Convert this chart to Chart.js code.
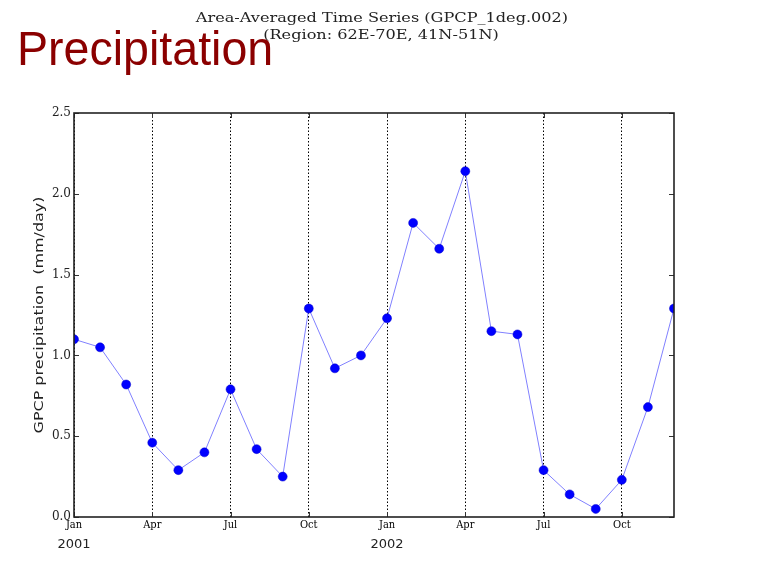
<!DOCTYPE html>
<html>
<head>
<meta charset="utf-8">
<script src="https://cdn.jsdelivr.net/npm/chart.js@4/dist/chart.umd.min.js"></script>
<style>
  html, body { margin: 0; padding: 0; background: #fff; }
  #wrap { position: relative; width: 758px; height: 575px; overflow: hidden; }
  #c { position: absolute; left: 0; top: 0; }
  .title { position: absolute; font-family: "DejaVu Serif", serif; font-size: 13px; color: #222;
           white-space: nowrap; transform: translateX(-50%) scaleX(1.24); line-height: 1; }
  #headline { position: absolute; left: 17px; top: 25px; font-family: "Liberation Sans", Arial, sans-serif;
              font-size: 48px; color: #8b0000; white-space: nowrap; line-height: 1;
              transform: scaleX(0.97); transform-origin: 0 0; }
</style>
</head>
<body>
<div id="wrap">
  <canvas id="c" width="758" height="575"></canvas>
  <div class="title" style="left:382px; top:11px;">Area-Averaged Time Series (GPCP_1deg.002)</div>
  <div class="title" style="left:381px; top:28px;">(Region: 62E-70E, 41N-51N)</div>
  <div id="headline">Precipitation</div>
</div>
<script>
// Monthly area-averaged GPCP precipitation, Jan 2001 – Dec 2002 (mm/day)
const monthIndex = [0,1,2,3,4,5,6,7,8,9,10,11,12,13,14,15,16,17,18,19,20,21,22,23];
const precipValues = [1.10, 1.05, 0.82, 0.46, 0.29, 0.40, 0.79, 0.42, 0.25, 1.29, 0.92, 1.00,
                      1.23, 1.82, 1.66, 2.14, 1.15, 1.13, 0.29, 0.14, 0.05, 0.23, 0.68, 1.29];
const monthNames = ['Jan','Feb','Mar','Apr','May','Jun','Jul','Aug','Sep','Oct','Nov','Dec'];
const monthTicks = [0,3,6,9,12,15,18,21];
const yearTicks = [0,12];
const yearLabels = ['2001','2002'];
const yTicks = [0,0.5,1.0,1.5,2.0,2.5];
const yAxisTitle = 'GPCP precipitation  (mm/day)';

const points = monthIndex.map((m, i) => ({x: m, y: precipValues[i]}));

// Plot frame, inward-facing tick marks on all four sides, and the y-axis title
const framePlugin = {
  id: 'frame',
  afterDatasetsDraw(chart) {
    const {ctx, chartArea: a, scales} = chart;
    ctx.save();
    ctx.strokeStyle = '#333';
    ctx.lineWidth = 1;
    ctx.beginPath();
    yTicks.forEach(v => {
      const y = Math.round(scales.y.getPixelForValue(v)) + 0.5;
      ctx.moveTo(a.left, y); ctx.lineTo(a.left + 5, y);
      ctx.moveTo(a.right, y); ctx.lineTo(a.right - 5, y);
    });
    monthTicks.forEach(v => {
      const x = Math.round(scales.x.getPixelForValue(v)) + 0.5;
      ctx.moveTo(x, a.bottom); ctx.lineTo(x, a.bottom - 5);
      ctx.moveTo(x, a.top); ctx.lineTo(x, a.top + 5);
    });
    ctx.stroke();
    ctx.lineWidth = 1.6;
    ctx.strokeStyle = '#222';
    ctx.strokeRect(a.left, a.top, a.right - a.left, a.bottom - a.top);

    // rotated axis title, stretched along its length
    ctx.translate(a.left - 34, (a.top + a.bottom) / 2);
    ctx.rotate(-Math.PI / 2);
    ctx.font = '13px "DejaVu Sans"';
    ctx.fillStyle = '#222';
    ctx.textAlign = 'center';
    ctx.textBaseline = 'middle';
    const w = ctx.measureText(yAxisTitle).width;
    ctx.scale(237 / w, 1);
    ctx.fillText(yAxisTitle, 0, 0);
    ctx.restore();
  }
};

new Chart(document.getElementById('c'), {
  type: 'line',
  data: {
    datasets: [{
      data: points,
      borderColor: '#8080ff',
      borderWidth: 1,
      pointRadius: 4.5,
      pointHoverRadius: 4.5,
      pointBackgroundColor: '#0000ff',
      pointBorderColor: '#0000cc',
      pointBorderWidth: 0.5,
      tension: 0,
      clip: 0
    }]
  },
  options: {
    responsive: false,
    animation: false,
    events: [],
    layout: { padding: { left: 0, top: 113, right: 84, bottom: 0 } },
    plugins: { legend: { display: false }, tooltip: { enabled: false } },
    scales: {
      x: {
        type: 'linear',
        position: 'bottom',
        min: 0, max: 23,
        afterBuildTicks: s => { s.ticks = monthTicks.map(v => ({value: v})); },
        afterFit: s => { s.height = 19; },
        grid: { display: true, color: '#000', lineWidth: 1, drawTicks: false },
        border: { display: false, dash: [1.5, 2] },
        ticks: {
          padding: 2,
          maxRotation: 0,
          autoSkip: false,
          color: '#000',
          font: { family: '"DejaVu Serif Condensed", "DejaVu Serif"', size: 11 },
          callback: v => monthNames[v % 12]
        }
      },
      year: {
        type: 'linear',
        position: 'bottom',
        min: 0, max: 23,
        afterBuildTicks: s => { s.ticks = yearTicks.map(v => ({value: v})); },
        afterFit: s => { s.height = 39; },
        grid: { display: false, drawTicks: false },
        border: { display: false },
        ticks: {
          padding: 1,
          maxRotation: 0,
          autoSkip: false,
          color: '#222',
          font: { family: 'DejaVu Sans', size: 13 },
          callback: v => yearLabels[yearTicks.indexOf(v)]
        }
      },
      y: {
        type: 'linear',
        min: 0, max: 2.5,
        afterBuildTicks: s => { s.ticks = yTicks.map(v => ({value: v})); },
        afterFit: s => { s.width = 74; },
        grid: { display: false, drawTicks: false },
        border: { display: false },
        ticks: {
          padding: 3,
          color: '#222',
          font: { family: 'DejaVu Serif', size: 12 },
          callback: v => v.toFixed(1)
        }
      }
    }
  },
  plugins: [framePlugin]
});
</script>
</body>
</html>
